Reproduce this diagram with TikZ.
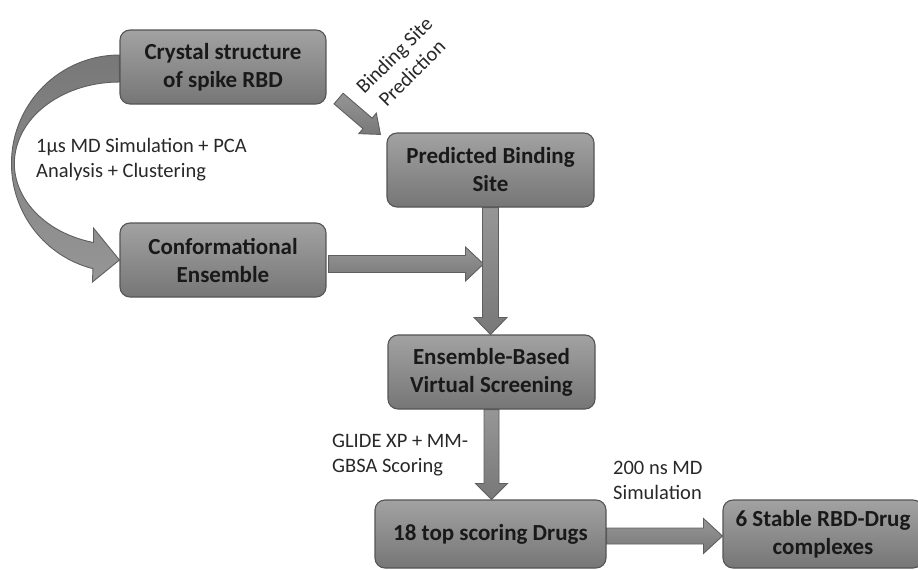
\documentclass[tikz,border=0pt]{standalone}
\usepackage{fontspec}
\setmainfont{Carlito}
\usetikzlibrary{calc,backgrounds}
\definecolor{boxtop}{RGB}{162,162,162}
\definecolor{boxbot}{RGB}{118,118,118}
\definecolor{boxline}{RGB}{85,85,85}
\definecolor{arrtop}{RGB}{150,150,150}
\definecolor{arrbot}{RGB}{120,120,120}
\definecolor{arrline}{RGB}{95,95,95}
\definecolor{lbl}{RGB}{40,40,40}
\tikzset{
  stepbox/.style={rectangle, rounded corners=10pt, draw=boxline, line width=1.1pt,
    top color=boxtop, bottom color=boxbot, minimum width=206pt, minimum height=74pt,
    inner sep=0pt, align=center, text=black!90,
    font=\bfseries\fontsize{23}{28}\selectfont},
  arrowbody/.style={draw=arrline, line width=0.9pt, top color=arrtop, bottom color=arrbot, line join=miter},
  note/.style={align=left, inner sep=0pt, anchor=west, text=lbl, font=\fontsize{20.5}{25}\selectfont}
}
\newcommand\fatarrow[6]{%
  \coordinate (faS) at (#1);
  \coordinate (faT) at (#2);
  \coordinate (faB) at ($(faT)!#5!(faS)$);
  \path[arrowbody,#6] ($(faS)!#3!90:(faT)$) -- ($(faB)!#3!90:(faT)$) -- ($(faB)!#4!90:(faT)$)
    -- (faT) -- ($(faB)!#4!-90:(faT)$) -- ($(faB)!#3!-90:(faT)$) -- ($(faS)!#3!-90:(faT)$) -- cycle;
}
\begin{document}
\begin{tikzpicture}[x=1pt,y=-1pt]
\useasboundingbox (0,0) rectangle (918,570);
% boxes
\node[stepbox] (crystal) at (223,67) {Crystal structure\\of spike RBD};
\node[stepbox, minimum width=207pt] (pred) at (490.5,170) {Predicted Binding\\Site};
\node[stepbox] (conf) at (223,260) {Conformational\\Ensemble};
\node[stepbox, minimum width=207pt] (ens) at (491.5,372) {Ensemble-Based\\Virtual Screening};
\node[stepbox, minimum width=231pt, minimum height=68pt] (top) at (490.5,534) {18 top scoring Drugs};
\node[stepbox, minimum width=200pt, minimum height=68pt] (six) at (823,534) {6 Stable RBD-Drug\\complexes};
% labels
\node[note] (lmd) at (36,160) {1µs MD Simulation + PCA\\Analysis + Clustering};
\node[note] (lglide) at (332,455.5) {GLIDE XP + MM-\\GBSA Scoring};
\node[note] (l200) at (613,480) {200 ns MD\\Simulation};
\node[note, anchor=center, align=center, rotate=45] (lbind) at (403,64) {Binding Site\\Prediction};
% connectors
\begin{pgfonlayer}{background}
  % curved arrow from crystal to conf
  \coordinate (ce) at ($(crystal.west)!0.5!(conf.west)$);
  \coordinate (hTip) at (conf.west);
  \path[arrowbody, top color=arrbot, bottom color=arrtop]
    ($(ce)+(0,-108.5)$) arc[start angle=90, end angle=255.8, x radius=108pt, y radius=108.5pt]
    -- ($(hTip)+(-27,22)$) -- (hTip) -- ($(hTip)+(-26,-32)$)
    -- ($(ce)+(-26,79)$) arc[start angle=255.7, end angle=90, x radius=105pt, y radius=81.5pt]
    -- cycle;
  \fatarrow{$(crystal.south east)+(12,-6)$}{$(pred.north west)+(-6,2)$}{7pt}{13.5pt}{17pt}{}
  \fatarrow{$(conf.east)+(2,4)$}{$(pred.south |- conf.east)+(-7,4)$}{8.5pt}{17pt}{18pt}{}
  \fatarrow{pred.south}{pred.south |- ens.north}{8pt}{16.5pt}{17pt}{}
  \fatarrow{ens.south}{ens.south |- top.north}{7.5pt}{16pt}{16pt}{}
  \fatarrow{$(top.east)+(0,2)$}{$(six.west)+(0,2)$}{8pt}{17.5pt}{19pt}{}
\end{pgfonlayer}
\end{tikzpicture}
\end{document}
